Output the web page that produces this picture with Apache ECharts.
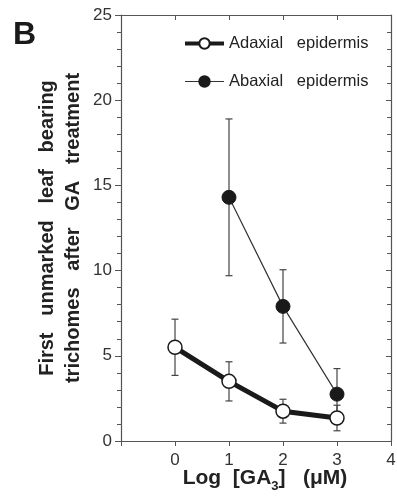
<!DOCTYPE html>
<html><head><meta charset="utf-8">
<script src="https://cdn.jsdelivr.net/npm/echarts@6/dist/echarts.min.js"></script>
<style>html,body{margin:0;padding:0;background:#fff}#c{width:397px;height:496px}</style>
</head><body><div id="c"></div>
<script>
const xValues = [0, 1, 2, 3];
const adaxialMean = [5.5, 3.5, 1.75, 1.35];
const adaxialErr = [1.65, 1.15, 0.7, 0.75];
const abaxialX = [1, 2, 3];
const abaxialMean = [14.3, 7.9, 2.75];
const abaxialErr = [4.6, 2.15, 1.5];
const xTicks = [0, 1, 2, 3, 4];
const yTicks = [0, 5, 10, 15, 20, 25];

const ink = '#1a1a1a';
const axisCol = '#555';
const FF = 'Liberation Sans, Arial, sans-serif';

function errData(xs, m, e) { return xs.map((x, i) => [x, m[i] - e[i], m[i] + e[i]]); }
function errSeries(data) {
  return {
    type: 'custom', xAxisIndex: 0, yAxisIndex: 0, z: 1, silent: true,
    data: data,
    renderItem: function (params, api) {
      const x = api.value(0), lo = api.value(1), hi = api.value(2);
      const p1 = api.coord([x, lo]), p2 = api.coord([x, hi]);
      const w = 3.5;
      const st = { stroke: '#444', lineWidth: 1.2 };
      return { type: 'group', children: [
        { type: 'line', shape: { x1: p1[0], y1: p1[1], x2: p2[0], y2: p2[1] }, style: st },
        { type: 'line', shape: { x1: p1[0] - w, y1: p1[1], x2: p1[0] + w, y2: p1[1] }, style: st },
        { type: 'line', shape: { x1: p2[0] - w, y1: p2[1], x2: p2[0] + w, y2: p2[1] }, style: st }
      ]};
    }
  };
}

const chart = echarts.init(document.getElementById('c'));
const labelFont = { fontFamily: FF, fontSize: 17, color: '#333' };
chart.setOption({
  backgroundColor: '#fff',
  animation: false,
  grid: { left: 121, right: 6, top: 15, bottom: 55, outerBoundsMode: 'none', containLabel: false },
  legend: {
    orient: 'vertical', left: 183, top: 35, itemGap: 21, padding: 0,
    itemWidth: 39, itemHeight: 13,
    textStyle: { fontFamily: FF, fontSize: 16.5, color: '#222' },
    data: [
      { name: 'Adaxial   epidermis', lineStyle: { width: 4, color: ink } },
      { name: 'Abaxial   epidermis', lineStyle: { width: 1.2, color: '#333' } }
    ]
  },
  xAxis: [{
    type: 'value', min: -1, max: 4, interval: 1, position: 'bottom',
    axisLine: { onZero: false, lineStyle: { color: axisCol, width: 1.2 } },
    axisTick: { inside: false, length: 5, lineStyle: { color: axisCol } },
    splitLine: { show: false },
    axisLabel: Object.assign({ margin: 11, formatter: v => (xTicks.indexOf(v) >= 0 ? String(v) : '') }, labelFont),
    name: '{a|Log  [GA}{s|3}{a|]   (μM)}', nameLocation: 'middle', nameGap: 23,
    nameMoveOverlap: false,
    nameTextStyle: { padding: [0, 0, 0, 18], rich: {
      a: { fontFamily: FF, fontWeight: 'bold', fontSize: 21, color: '#222' },
      s: { fontFamily: FF, fontWeight: 'bold', fontSize: 13, color: '#222', padding: [16, 0, 0, 0] }
    } }
  }, {
    type: 'value', min: -1, max: 4, interval: 1, position: 'top',
    axisLine: { onZero: false, lineStyle: { color: axisCol, width: 1.2 } },
    axisTick: { inside: true, length: 5, lineStyle: { color: axisCol } },
    axisLabel: { show: false }, splitLine: { show: false }
  }],
  yAxis: [{
    type: 'value', min: 0, max: 25, interval: 5, position: 'left',
    axisLine: { show: true, onZero: false, lineStyle: { color: axisCol, width: 1.2 } },
    axisTick: { show: true, inside: false, length: 6, lineStyle: { color: axisCol } },
    minorTick: { show: true, splitNumber: 5, length: 4, lineStyle: { color: axisCol } },
    splitLine: { show: false },
    axisLabel: Object.assign({ margin: 9, formatter: v => (yTicks.indexOf(v) >= 0 ? String(v) : '') }, labelFont),
    name: 'First   unmarked   leaf   bearing\ntrichomes   after   GA   treatment',
    nameLocation: 'middle', nameGap: 35, nameRotate: 90, nameMoveOverlap: false,
    nameTextStyle: { fontFamily: FF, fontWeight: 'bold', fontSize: 20, color: '#222', lineHeight: 26, align: 'center' }
  }, {
    type: 'value', min: 0, max: 25, interval: 5, position: 'right',
    axisLine: { show: true, onZero: false, lineStyle: { color: axisCol, width: 1.2 } },
    axisTick: { show: true, inside: true, length: 5, lineStyle: { color: axisCol } },
    minorTick: { show: true, splitNumber: 5, length: 4, lineStyle: { color: axisCol } },
    splitLine: { show: false }, axisLabel: { show: false }
  }],
  graphic: [{
    type: 'text', left: 13, top: 19,
    style: { text: 'B', fontFamily: FF, fontWeight: 'bold', fontSize: 32, fill: '#1a1a1a' }
  }],
  series: [
    errSeries(errData(xValues, adaxialMean, adaxialErr)),
    errSeries(errData(abaxialX, abaxialMean, abaxialErr)),
    {
      name: 'Abaxial   epidermis', type: 'line', z: 3,
      data: abaxialX.map((x, i) => [x, abaxialMean[i]]),
      symbol: 'circle', symbolSize: 14,
      lineStyle: { color: '#333', width: 1.2 },
      itemStyle: { color: ink, borderColor: ink, borderWidth: 1 }
    },
    {
      name: 'Adaxial   epidermis', type: 'line', z: 4,
      data: xValues.map((x, i) => [x, adaxialMean[i]]),
      symbol: 'circle', symbolSize: 14,
      lineStyle: { color: ink, width: 5 },
      itemStyle: { color: '#fff', borderColor: ink, borderWidth: 1.5 }
    }
  ]
});
</script></body></html>
